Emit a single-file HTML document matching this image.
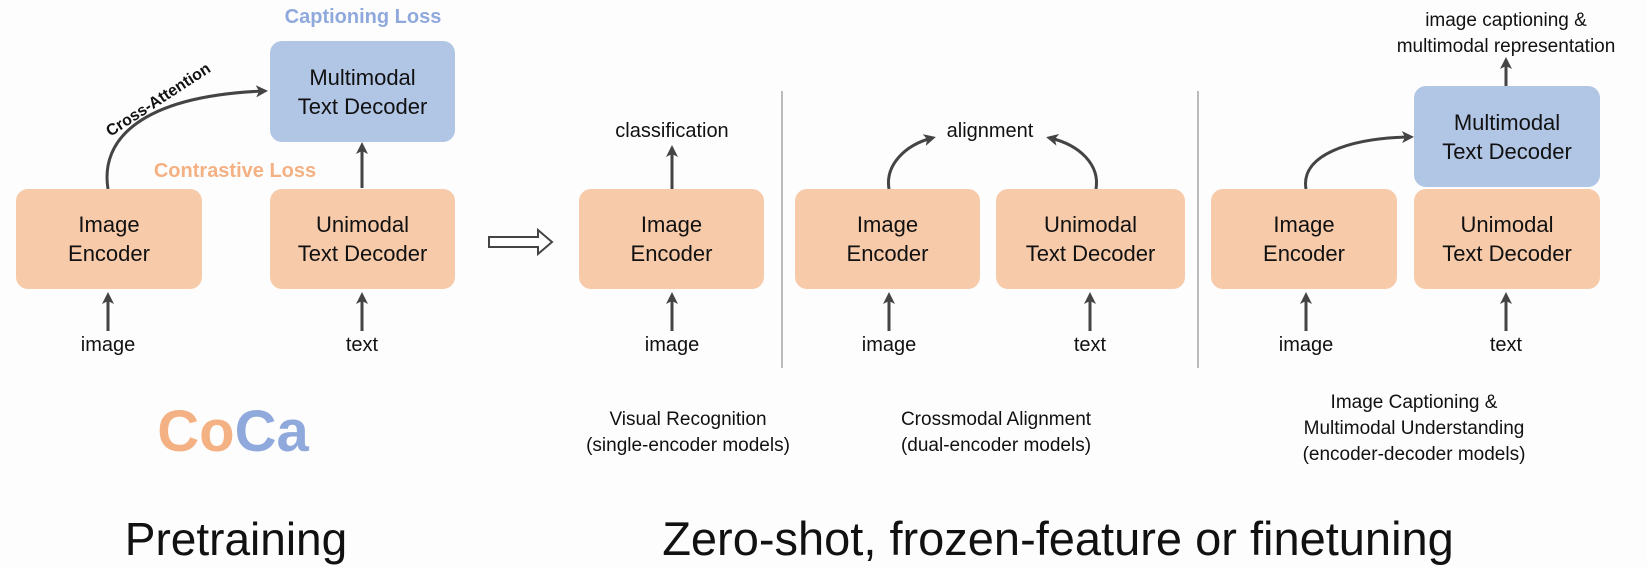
<!DOCTYPE html>
<html><head><meta charset="utf-8"><style>
body{margin:0;background:#fdfdfd;}
.w{position:relative;width:1647px;height:567px;overflow:hidden;font-family:"Liberation Sans",sans-serif;color:#111;}
.b{position:absolute;background:#f7caa9;border-radius:12px;display:flex;align-items:center;justify-content:center;text-align:center;font-size:22px;line-height:29px;}
.bl{background:#b1c5e5;}
.t{position:absolute;text-align:center;white-space:nowrap;transform:translateX(-50%);}
svg{position:absolute;left:0;top:0;}
</style></head><body><div class="w">
<svg width="1647" height="567">
<defs><marker id="a" markerWidth="12" markerHeight="12" refX="8" refY="6" orient="auto" markerUnits="userSpaceOnUse"><path d="M0,0 L12,6 L0,12 L3,6z" fill="#444"/></marker></defs>
<g stroke="#444" stroke-width="3" fill="none" marker-end="url(#a)">
<path d="M108,189 C100,140 140,96 264,91"/>
<path d="M362,188 V146"/>
<path d="M108,331 V296"/><path d="M362,331 V296"/>
<path d="M672,189 V149"/><path d="M672,331 V296"/>
<path d="M889,331 V296"/><path d="M1090,331 V296"/>
<path d="M1306,331 V296"/><path d="M1506,331 V296"/>
<path d="M889,189 C885,165 905,145 932,138"/>
<path d="M1096,189 C1100,165 1080,145 1050,138"/>
<path d="M1306,189 C1300,155 1350,138 1410,137"/>
<path d="M1506,86 V61"/>
</g>
<line x1="782" y1="91" x2="782" y2="368" stroke="#bbb" stroke-width="2"/>
<line x1="1198" y1="91" x2="1198" y2="368" stroke="#bbb" stroke-width="2"/>
<path d="M489,237 H538 V230 L552,242 L538,254 V247 H489 Z" fill="#fff" stroke="#444" stroke-width="2"/>
<text x="0" y="0" transform="translate(161,104) rotate(-33)" text-anchor="middle" font-family="Liberation Sans,sans-serif" font-weight="bold" font-size="16" fill="#111">Cross-Attention</text>
</svg>
<div class="b" style="left:16px;top:189px;width:186px;height:100px">Image<br>Encoder</div>
<div class="b bl" style="left:270px;top:41px;width:185px;height:101px">Multimodal<br>Text Decoder</div>
<div class="b" style="left:270px;top:189px;width:185px;height:100px">Unimodal<br>Text Decoder</div>
<div class="t" style="left:363px;top:6px;font-size:20px;font-weight:bold;color:#8fa9dc">Captioning Loss</div>
<div class="t" style="left:235px;top:160px;font-size:20px;font-weight:bold;color:#f4b183">Contrastive Loss</div>
<div class="t" style="left:108px;top:334px;font-size:20px">image</div>
<div class="t" style="left:362px;top:334px;font-size:20px">text</div>
<div class="t" style="left:233px;top:400px;font-size:58px;font-weight:bold;line-height:64px"><span style="color:#f4b183">Co</span><span style="color:#8fa9dc">Ca</span></div>
<div class="t" style="left:236px;top:512px;font-size:46px">Pretraining</div>

<div class="b" style="left:579px;top:189px;width:185px;height:100px">Image<br>Encoder</div>
<div class="t" style="left:672px;top:120px;font-size:20px">classification</div>
<div class="t" style="left:672px;top:334px;font-size:20px">image</div>
<div class="t" style="left:688px;top:407px;font-size:19px;line-height:26px">Visual Recognition<br>(single-encoder models)</div>

<div class="b" style="left:795px;top:189px;width:185px;height:100px">Image<br>Encoder</div>
<div class="b" style="left:996px;top:189px;width:189px;height:100px">Unimodal<br>Text Decoder</div>
<div class="t" style="left:990px;top:120px;font-size:20px">alignment</div>
<div class="t" style="left:889px;top:334px;font-size:20px">image</div>
<div class="t" style="left:1090px;top:334px;font-size:20px">text</div>
<div class="t" style="left:996px;top:407px;font-size:19px;line-height:26px">Crossmodal Alignment<br>(dual-encoder models)</div>

<div class="b" style="left:1211px;top:189px;width:186px;height:100px">Image<br>Encoder</div>
<div class="b bl" style="left:1414px;top:86px;width:186px;height:101px">Multimodal<br>Text Decoder</div>
<div class="b" style="left:1414px;top:189px;width:186px;height:100px">Unimodal<br>Text Decoder</div>
<div class="t" style="left:1506px;top:8px;font-size:19px;line-height:26px">image captioning &amp;<br>multimodal representation</div>
<div class="t" style="left:1306px;top:334px;font-size:20px">image</div>
<div class="t" style="left:1506px;top:334px;font-size:20px">text</div>
<div class="t" style="left:1414px;top:390px;font-size:19px;line-height:26px">Image Captioning &amp;<br>Multimodal Understanding<br>(encoder-decoder models)</div>

<div class="t" style="left:1058px;top:511px;font-size:47px">Zero-shot, frozen-feature or finetuning</div>
</div></body></html>
